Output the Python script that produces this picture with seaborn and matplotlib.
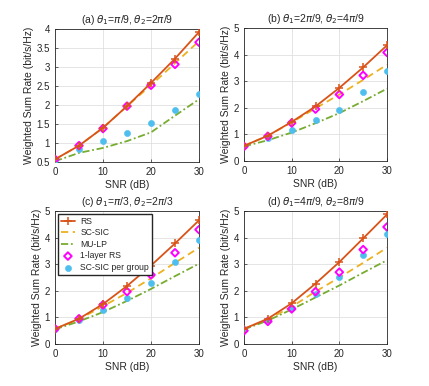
import matplotlib
matplotlib.use("Agg")
import matplotlib.pyplot as plt
import numpy as np
import pandas as pd
import seaborn as sns

snr = [0, 5, 10, 15, 20, 25, 30]

titles = [
    r'(a) $\theta_1$=$\pi$/9, $\theta_2$=2$\pi$/9',
    r'(b) $\theta_1$=2$\pi$/9, $\theta_2$=4$\pi$/9',
    r'(c) $\theta_1$=$\pi$/3, $\theta_2$=2$\pi$/3',
    r'(d) $\theta_1$=4$\pi$/9, $\theta_2$=8$\pi$/9',
]

rs = [
    [0.57, 0.93, 1.40, 1.97, 2.58, 3.22, 3.92],
    [0.57, 0.95, 1.47, 2.05, 2.75, 3.52, 4.35],
    [0.57, 0.95, 1.50, 2.18, 2.95, 3.78, 4.65],
    [0.57, 0.95, 1.53, 2.27, 3.08, 3.97, 4.87],
]
sc_sic = [
    [0.57, 0.93, 1.40, 1.97, 2.52, 3.10, 3.68],
    [0.57, 0.95, 1.45, 1.98, 2.50, 3.05, 3.62],
    [0.57, 0.93, 1.42, 1.92, 2.47, 3.05, 3.62],
    [0.57, 0.92, 1.40, 1.97, 2.50, 3.05, 3.62],
]
mu_lp = [
    [0.52, 0.74, 0.87, 1.05, 1.28, 1.72, 2.15],
    [0.55, 0.78, 1.07, 1.42, 1.80, 2.25, 2.72],
    [0.55, 0.85, 1.20, 1.62, 2.07, 2.55, 3.02],
    [0.55, 0.88, 1.30, 1.75, 2.20, 2.68, 3.15],
]
one_layer_rs = [
    [0.57, 0.93, 1.38, 1.97, 2.52, 3.07, 3.65],
    [0.55, 0.93, 1.43, 1.95, 2.50, 3.22, 4.08],
    [0.57, 0.95, 1.47, 1.97, 2.60, 3.43, 4.30],
    [0.50, 0.85, 1.32, 1.97, 2.70, 3.55, 4.40],
]
sc_sic_group = [
    [0.55, 0.83, 1.05, 1.27, 1.52, 1.87, 2.28],
    [0.57, 0.88, 1.17, 1.53, 1.90, 2.60, 3.37],
    [0.57, 0.90, 1.28, 1.72, 2.30, 3.10, 3.92],
    [0.57, 0.92, 1.37, 1.87, 2.53, 3.33, 4.15],
]

sns.set_style("ticks")
plt.rcParams['font.family'] = ['Liberation Sans', 'DejaVu Sans']
plt.rcParams['mathtext.fontset'] = 'dejavusans'

fig = plt.figure(figsize=(4.29, 3.86), dpi=100)
# axes boxes in pixels: (left, top, right, bottom)
W, H = 429, 386
boxes = [(55, 29, 199, 162), (244, 28, 387, 161), (55, 211, 199, 344), (244, 211, 387, 344)]

for i, (x0, y0, x1, y1) in enumerate(boxes):
    ax = fig.add_axes([x0 / W, 1 - y1 / H, (x1 - x0) / W, (y1 - y0) / H])
    df = pd.DataFrame({'snr': snr, 'RS': rs[i], 'SC-SIC': sc_sic[i], 'MU-LP': mu_lp[i],
                       '1-layer RS': one_layer_rs[i], 'SC-SIC per group': sc_sic_group[i]})
    sns.lineplot(data=df, x='snr', y='RS', ax=ax, color='#D95319', lw=1.3,
                 marker='+', markersize=6, markeredgewidth=1.1,
                 markeredgecolor='#D95319', label='RS', zorder=5)
    sns.lineplot(data=df, x='snr', y='SC-SIC', ax=ax, color='#EDB120', lw=1.3,
                 linestyle=(0, (4, 2.5)), label='SC-SIC')
    sns.lineplot(data=df, x='snr', y='MU-LP', ax=ax, color='#77AC30', lw=1.3,
                 linestyle=(0, (4, 1.5, 1, 1.5)), label='MU-LP')
    sns.scatterplot(data=df, x='snr', y='1-layer RS', ax=ax, marker='D', s=15,
                    facecolor='none', edgecolor='#FF00FF', linewidth=1.4, label='1-layer RS', zorder=4)
    sns.scatterplot(data=df, x='snr', y='SC-SIC per group', ax=ax, marker='o', s=20,
                    color='#4DBEEE', edgecolor='#4DBEEE', label='SC-SIC per group', zorder=3)

    ax.set_xlim(0, 30)
    ax.set_xticks([0, 10, 20, 30])
    if i == 0:
        ax.set_ylim(0.5, 4)
        ax.set_yticks(np.arange(0.5, 4.01, 0.5))
        ax.set_yticklabels(['0.5', '1', '1.5', '2', '2.5', '3', '3.5', '4'])
    else:
        ax.set_ylim(0, 5)
        ax.set_yticks([0, 1, 2, 3, 4, 5])
    ax.grid(True, color='#e0e0e0', lw=0.6)
    ax.set_axisbelow(True)
    for sp in ax.spines.values():
        sp.set_visible(True)
        sp.set_color('#262626')
        sp.set_linewidth(0.6)
    ax.tick_params(labelsize=7, length=2, width=0.5, direction='in', colors='#262626')
    ax.set_xlabel('SNR (dB)', fontsize=7.5, labelpad=2)
    ax.set_ylabel('Weighted Sum Rate (bit/s/Hz)', fontsize=7.5, labelpad=2)
    ax.set_title(titles[i], fontsize=7.5, pad=4)

    if i == 2:
        ax.legend(loc='upper left', fontsize=6.2, frameon=True, fancybox=False,
                  edgecolor='#262626', framealpha=1, borderpad=0.35, labelspacing=0.3,
                  handlelength=1.7, handletextpad=0.6, borderaxespad=0.3)
    else:
        ax.get_legend().remove()

fig.savefig('out.png', dpi=100)
